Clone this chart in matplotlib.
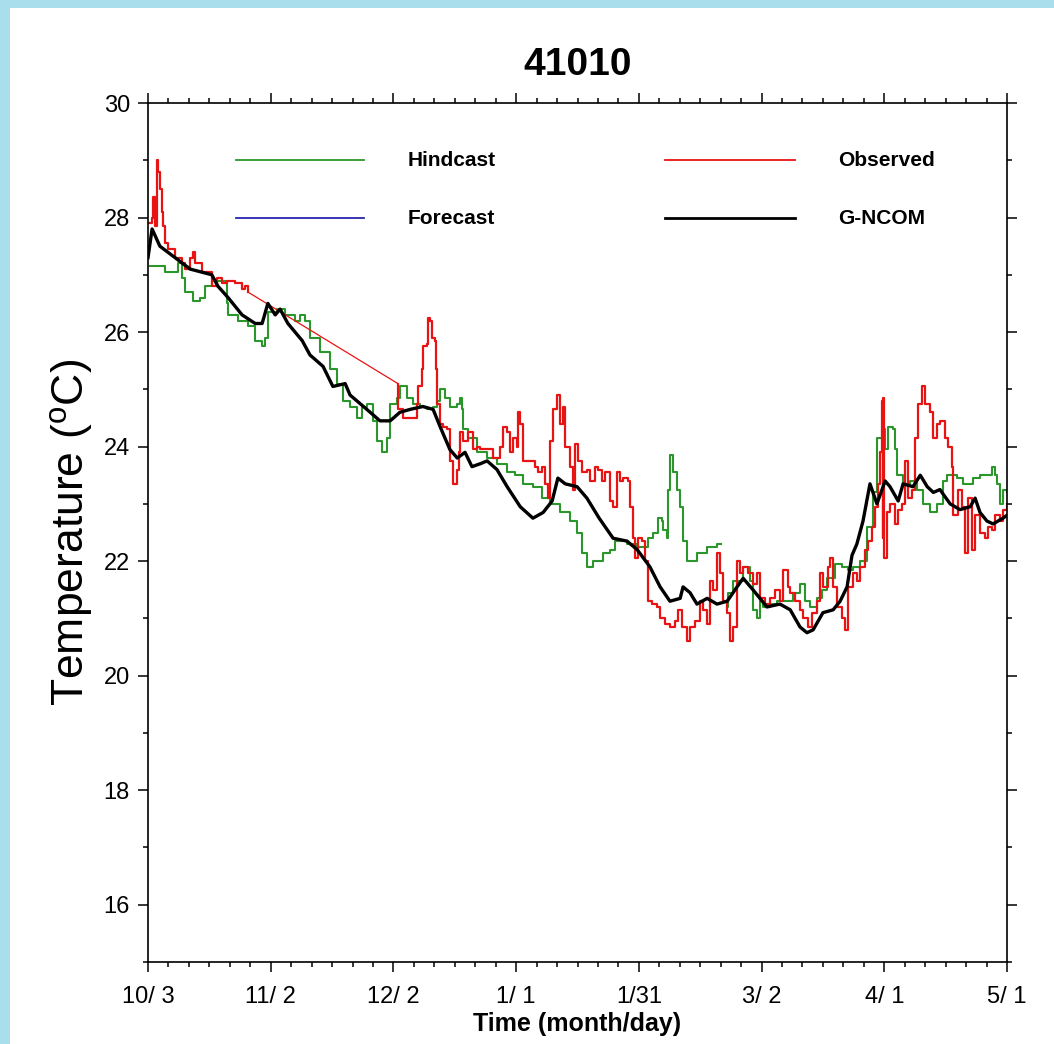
import numpy as np
import matplotlib
matplotlib.use("Agg")
import matplotlib.pyplot as plt
from matplotlib.patches import Rectangle

# days since 10/3
hind_day = [0.5, 4.2, 7.3, 8.3, 9.0, 11.0, 12.7, 13.9, 15.6, 19.3, 19.6, 22.0, 24.4, 26.2,
            27.9, 28.6, 29.3, 31.5, 33.5, 35.9, 37.2, 38.4, 39.6, 42.1, 44.5, 46.2, 47.7,
            49.4, 51.1, 52.3, 53.5, 55.0, 56.0, 57.2, 58.4, 59.2, 60.9, 61.6, 63.3, 64.8,
            66.5, 68.2, 69.7, 70.7, 71.4, 72.6, 73.8, 75.6, 76.3, 76.8, 77.0, 78.2, 80.4,
            82.9, 85.3, 87.8, 89.7, 91.7, 94.1, 96.3, 98.3, 100.7, 103.2, 104.9, 106.1,
            107.3, 108.8, 111.2, 113.0, 114.2, 117.1, 119.6, 121.0, 122.2, 123.5, 124.7,
            125.7, 125.9, 126.9, 127.1, 127.6, 128.4, 129.3, 130.1, 130.8, 131.8, 134.2,
            136.7, 139.1, 140.0, 141.6, 141.8, 143.0, 145.5, 147.2, 147.9, 148.9, 149.6,
            150.4, 152.1, 153.8, 155.3, 157.7, 159.4, 160.6, 161.9, 163.6, 164.8, 166.0,
            168.0, 169.7, 171.1, 172.4, 174.1, 175.8, 177.3, 178.2, 179.5, 180.2, 180.9,
            182.2, 182.6, 183.1, 184.6, 186.3, 188.0, 189.5, 191.2, 192.9, 194.4, 195.4,
            197.8, 199.3, 201.7, 203.4, 206.4, 207.1, 207.6, 208.3, 209.0, 210.0]
hind_temp = [27.15, 27.05, 27.2, 26.95, 26.7, 26.55, 26.6, 26.8, 26.9, 26.5, 26.3, 26.2, 26.1,
             25.85, 25.75, 25.9, 26.35, 26.4, 26.3, 26.2, 26.3, 26.2, 25.9, 25.65, 25.35,
             25.1, 24.8, 24.7, 24.5, 24.7, 24.75, 24.45, 24.1, 23.9, 24.15, 24.75, 24.85,
             25.05, 24.85, 24.75, 24.7, 24.65, 24.7, 24.8, 25.0, 24.85, 24.7, 24.75, 24.85,
             24.65, 24.3, 24.15, 23.9, 23.8, 23.7, 23.55, 23.5, 23.35, 23.3, 23.1, 23.0,
             22.85, 22.7, 22.5, 22.15, 21.9, 22.0, 22.15, 22.2, 22.35, 22.3, 22.25, 22.25,
             22.4, 22.5, 22.75, 22.7, 22.55, 22.4, 23.25, 23.85, 23.55, 23.25, 22.95, 22.35,
             22.0, 22.15, 22.25, 22.3, np.nan, 21.2, 21.45, 21.65, 21.9, 21.65, 21.15, 21.0,
             21.3, 21.2, 21.25, 21.3, 21.3, 21.45, 21.6, 21.3, 21.2, 21.35, 21.5, 21.7,
             21.95, 21.9, 21.85, 21.9, 22.0, 22.6, 23.2, 24.15, 24.3, 23.95, 24.35, 24.3,
             23.95, 23.5, 23.35, 23.4, 23.25, 23.0, 22.85, 23.0, 23.4, 23.5, 23.45, 23.35,
             23.45, 23.5, 23.65, 23.5, 23.35, 23.0, 23.25, 23.2]

obs_day_a = [0.0, 1.0, 1.2, 1.7, 2.2, 2.4, 2.9, 3.4, 3.7, 4.2, 4.9, 6.6, 8.3, 9.0, 10.3,
             11.0, 11.5, 13.2, 15.6, 16.9, 18.1, 19.3, 21.3, 23.0, 23.7, 24.4]
obs_temp_a = [27.9, 28.0, 28.35, 27.85, 29.0, 28.8, 28.5, 28.1, 27.85, 27.55, 27.45, 27.3,
              27.2, 27.1, 27.3, 27.4, 27.2, 27.05, 26.8, 26.95, 26.85, 26.9, 26.85, 26.75,
              26.8, 26.7]
obs_day_b = [61.1, 61.2, 62.3, 64.8, 65.8, 66.0, 67.0, 67.2, 68.2, 68.5, 68.9, 69.4, 70.2,
             70.4, 70.7, 71.4, 72.1, 73.1, 73.8, 74.6, 75.6, 76.0, 76.3, 77.0, 78.2, 79.5,
             80.4, 81.2, 82.9, 84.4, 86.1, 86.8, 87.8, 88.5, 89.2, 90.2, 90.5, 91.0, 91.7,
             93.4, 94.6, 95.4, 96.3, 97.1, 97.8, 98.3, 99.0, 100.0, 100.7, 101.5, 102.0,
             103.2, 103.9, 104.4, 105.1, 106.1, 107.3, 108.1, 109.3, 110.0, 111.0, 111.7,
             113.0, 113.7, 114.7, 115.4, 116.1, 117.4, 117.8, 118.6, 119.1, 119.8, 120.8,
             121.5, 122.2, 123.2, 124.4, 125.2, 126.4, 127.6, 128.9, 129.6, 130.6, 131.8,
             132.5, 133.7, 135.0, 135.7, 136.7, 137.4, 138.1, 139.1, 139.9, 140.6, 141.6,
             142.3, 143.0, 144.0, 144.7, 145.5, 146.7, 147.9, 148.9, 149.6, 150.9, 152.1,
             153.3, 154.5, 155.3, 156.4, 157.0, 158.2, 159.4, 160.1, 161.4, 162.3, 163.6,
             164.3, 165.0, 166.3, 166.7, 167.5, 168.5, 169.7, 170.4, 171.1, 172.4, 173.3,
             174.1, 175.3, 176.0, 177.0, 177.8, 178.5, 179.0, 179.5, 179.6, 179.7, 180.0,
             180.7, 181.4, 182.6, 183.4, 184.4, 185.1, 185.8, 186.8, 187.5, 188.3, 189.2,
             190.0, 191.2, 191.9, 192.9, 193.6, 194.9, 195.6, 196.6, 196.8, 198.0, 199.0,
             199.8, 200.5, 201.5, 202.2, 203.4, 204.6, 205.4, 206.4, 207.1, 208.3, 209.0,
             210.0]
obs_temp_b = [25.1, 24.65, 24.5, 24.5, 24.75, 25.05, 25.35, 25.75, 25.8, 26.25, 26.2, 25.9,
              25.85, 25.35, 24.75, 24.4, 24.35, 24.3, 23.75, 23.35, 23.6, 23.9, 24.25, 24.1,
              24.25, 23.95, 24.0, 23.95, 23.95, 23.8, 24.0, 24.35, 24.25, 23.9, 24.15, 24.0,
              24.6, 24.4, 23.75, 23.75, 23.65, 23.55, 23.65, 23.35, 23.1, 24.1, 24.65, 24.9,
              24.4, 24.7, 24.0, 23.65, 23.25, 24.05, 23.75, 23.55, 23.6, 23.4, 23.65, 23.6,
              23.4, 23.55, 23.05, 22.95, 23.55, 23.4, 23.45, 23.4, 22.95, 22.4, 22.05, 22.4,
              22.35, 22.0, 21.3, 21.25, 21.2, 21.0, 20.9, 20.85, 20.95, 21.15, 20.85, 20.6,
              20.85, 20.95, 21.3, 21.15, 20.9, 21.65, 21.5, 22.15, 21.8, 21.3, 21.1, 20.6,
              20.85, 22.0, 21.8, 21.9, 21.8, 21.6, 21.8, 21.35, 21.25, 21.35, 21.5, 21.3,
              21.85, 21.55, 21.45, 21.3, 21.15, 21.0, 20.85, 21.1, 21.3, 21.8, 21.55, 21.9,
              22.05, 21.55, 21.2, 21.0, 20.8, 21.55, 21.8, 21.65, 21.9, 22.2, 22.35, 22.6,
              22.95, 23.35, 23.9, 24.8, 22.4, 24.85, 22.05, 22.85, 23.0, 22.65, 22.9, 23.0,
              23.75, 23.1, 23.25, 24.15, 24.75, 25.05, 24.75, 24.6, 24.15, 24.4, 24.45,
              24.15, 24.0, 23.65, 22.8, 23.25, 22.95, 22.15, 23.1, 22.2, 22.8, 22.5, 22.4,
              22.6, 22.55, 22.8, 22.7, 22.9, 23.0]

gncom_day = [0.0, 1.0, 2.9, 6.6, 10.3, 15.6, 17.1, 19.6, 23.0, 26.2, 27.9, 29.3, 31.1, 32.3,
             34.2, 37.7, 39.6, 42.8, 45.2, 48.2, 49.4, 53.5, 56.7, 59.2, 61.6, 64.1, 67.2,
             69.7, 71.4, 73.8, 75.6, 77.5, 79.2, 81.2, 82.9, 85.3, 87.8, 91.0, 94.1, 96.6,
             98.8, 100.2, 102.0, 104.9, 107.3, 110.3, 113.7, 117.1, 119.6, 122.7, 125.2,
             127.6, 130.1, 130.8, 132.5, 134.2, 136.7, 139.1, 141.6, 144.0, 145.5, 147.9,
             151.3, 154.5, 157.0, 159.4, 161.1, 162.6, 165.0, 167.5, 169.2, 170.9, 172.1,
             173.3, 174.8, 176.5, 178.2, 180.2, 181.4, 182.2, 183.4, 184.6, 187.0, 188.8,
             190.5, 192.0, 193.6, 196.1, 198.5, 201.0, 202.2, 203.4, 205.1, 206.6, 209.0,
             210.0]
gncom_temp = [27.3, 27.8, 27.5, 27.3, 27.1, 27.0, 26.8, 26.6, 26.3, 26.15, 26.15, 26.5, 26.3,
              26.4, 26.15, 25.85, 25.6, 25.4, 25.05, 25.1, 24.9, 24.65, 24.45, 24.45, 24.6,
              24.65, 24.7, 24.65, 24.35, 23.95, 23.8, 23.9, 23.65, 23.7, 23.75, 23.6, 23.3,
              22.95, 22.75, 22.85, 23.05, 23.45, 23.35, 23.3, 23.1, 22.75, 22.4, 22.35, 22.2,
              21.9, 21.55, 21.3, 21.35, 21.55, 21.45, 21.25, 21.35, 21.25, 21.3, 21.55, 21.7,
              21.5, 21.2, 21.25, 21.15, 20.85, 20.75, 20.8, 21.1, 21.15, 21.3, 21.55, 22.1,
              22.3, 22.7, 23.35, 23.0, 23.4, 23.3, 23.2, 23.05, 23.35, 23.3, 23.5, 23.3, 23.2,
              23.25, 23.0, 22.9, 22.95, 23.1, 22.85, 22.7, 22.65, 22.75, 22.8]

xtick_days = [0, 30, 60, 90, 120, 150, 180, 210]
xtick_labels = ["10/ 3", "11/ 2", "12/ 2", "1/ 1", "1/31", "3/ 2", "4/ 1", "5/ 1"]
legend_labels = ["Hindcast", "Forecast", "Observed", "G-NCOM"]
legend_colors = ["#2b962b", "#2626b0", "#e81414", "black"]

plt.rcParams["font.family"] = ["Liberation Sans", "DejaVu Sans"]

fig = plt.figure(figsize=(10.54, 10.44), dpi=100, facecolor="#a9dfec")
# white page over the blue backdrop
fig.patches.append(Rectangle((10 / 1054, 0), 1.0, 1 - 8 / 1044, transform=fig.transFigure,
                             facecolor="white", edgecolor="none", zorder=-10))
ax = fig.add_axes([148 / 1054, 1 - 962 / 1044, 859 / 1054, 859 / 1044])
ax.set_facecolor("white")

ax.step(hind_day, hind_temp, where="post", color=legend_colors[0], lw=1.5)
ax.step(obs_day_a, obs_temp_a, where="post", color=legend_colors[2], lw=1.6)
ax.plot([obs_day_a[-1], obs_day_b[0]], [obs_temp_a[-1], obs_temp_b[0]],
        color=legend_colors[2], lw=0.9)
ax.step(obs_day_b, obs_temp_b, where="post", color=legend_colors[2], lw=1.6)
ax.plot(gncom_day, gncom_temp, color="black", lw=2.4)

ax.set_xlim(0, 210)
ax.set_ylim(15, 30)
ax.set_xticks(xtick_days)
ax.set_xticklabels(xtick_labels)
ax.set_xticks(np.arange(0, 211, 5), minor=True)
ax.set_yticks(np.arange(16, 31, 2))
ax.set_yticks(np.arange(15, 31, 1), minor=True)
ax.tick_params(which="both", direction="out", top=True, right=True, width=1.1,
               labelsize=17)
ax.tick_params(axis="x", pad=10)
ax.tick_params(axis="y", pad=6)
ax.tick_params(which="major", length=7)
ax.tick_params(which="minor", length=3.5)
for s in ax.spines.values():
    s.set_linewidth(1.2)

ax.set_title("41010", fontsize=28, fontweight="bold", pad=20)
ax.set_xlabel("Time (month/day)", fontsize=18, fontweight="bold", labelpad=3)
ax.set_ylabel("Temperature ($\\mathregular{^{o}}$C)", fontsize=32, labelpad=6)

# legend, drawn by hand in two columns
cols = [(0.1024, 0.2515, 0.3027), (0.6019, 0.7532, 0.8033)]
rows = [0.9336, 0.866]
for i, (lab, c) in enumerate(zip(legend_labels, legend_colors)):
    x0, x1, xt = cols[i // 2]
    y = rows[i % 2]
    ax.plot([x0, x1], [y, y], color=c, lw=2.0 if lab == "G-NCOM" else 1.3,
            transform=ax.transAxes)
    ax.text(xt, y, lab, transform=ax.transAxes, fontsize=15, fontweight="bold",
            va="center", ha="left")

fig.savefig("out.png", dpi=100, facecolor=fig.get_facecolor())
